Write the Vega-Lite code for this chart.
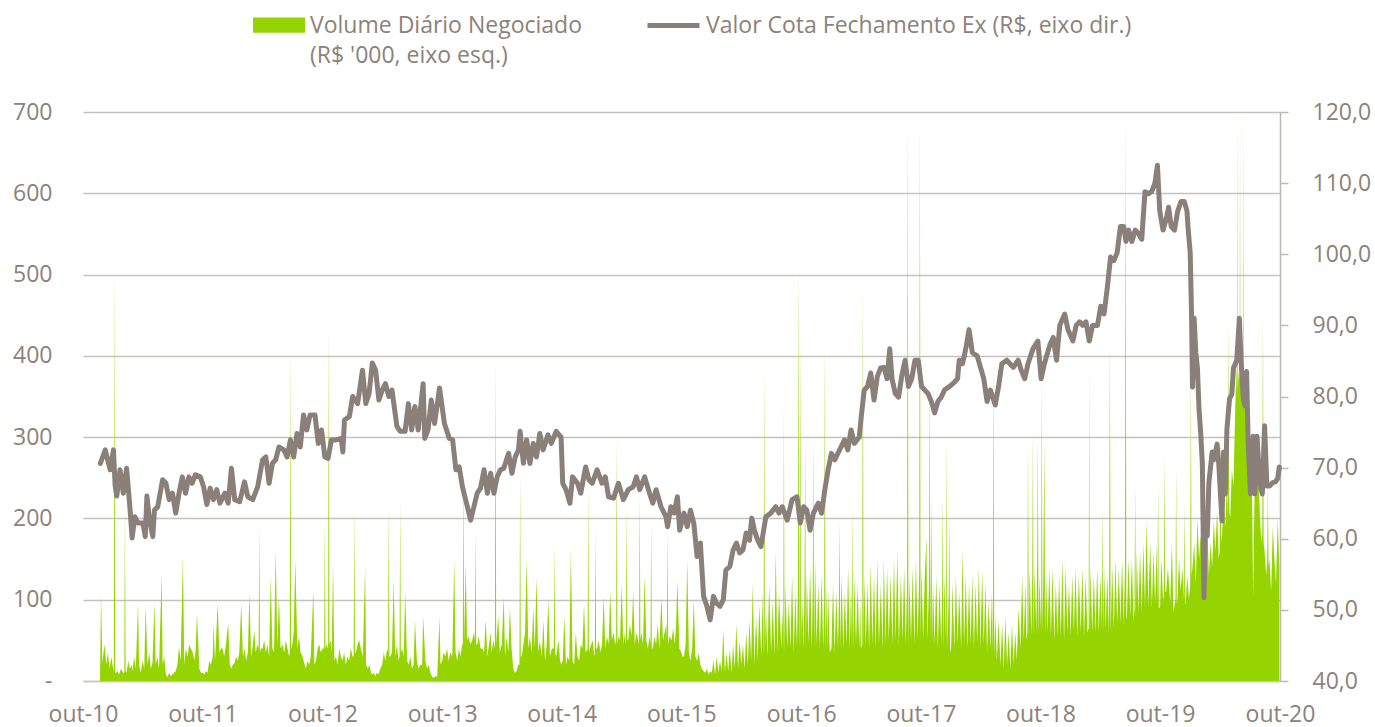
{
"$schema":"https://vega.github.io/schema/vega-lite/v6.json",
"width":1197,"height":569,
"autosize":{"type":"none"},
"padding":{"left":83,"top":112,"right":95,"bottom":46},
"config":{"font":"Open Sans","view":{"stroke":null},"style":{"guide-label":{"lineHeight":30}},
"axis":{"labelFont":"Open Sans","labelFontSize":23,"labelColor":"#8C8279","title":null}},
"datasets":{
"vol":[
{"d":"2010-11-22","v":5},{"d":"2010-11-25","v":108},{"d":"2010-11-29","v":20},
{"d":"2010-12-01","v":30},{"d":"2010-12-06","v":45},{"d":"2010-12-11","v":20},{"d":"2010-12-16","v":35},{"d":"2010-12-21","v":15},{"d":"2010-12-26","v":30},
{"d":"2011-01-01","v":15},{"d":"2011-01-03","v":12},{"d":"2011-01-05","v":512},{"d":"2011-01-07","v":10},{"d":"2011-01-10","v":10},{"d":"2011-01-14","v":12},{"d":"2011-01-19","v":8},{"d":"2011-01-25","v":15},
{"d":"2011-02-01","v":10},{"d":"2011-02-04","v":10},{"d":"2011-02-06","v":214},{"d":"2011-02-08","v":12},{"d":"2011-02-11","v":10},{"d":"2011-02-16","v":25},{"d":"2011-02-21","v":15},{"d":"2011-02-26","v":20},
{"d":"2011-03-01","v":12},{"d":"2011-03-06","v":30},{"d":"2011-03-11","v":15},{"d":"2011-03-18","v":95},{"d":"2011-03-21","v":20},{"d":"2011-03-26","v":10},
{"d":"2011-04-01","v":25},{"d":"2011-04-06","v":15},{"d":"2011-04-10","v":92},{"d":"2011-04-16","v":20},{"d":"2011-04-21","v":35},{"d":"2011-04-26","v":15},
{"d":"2011-05-01","v":22},{"d":"2011-05-07","v":96},{"d":"2011-05-11","v":20},{"d":"2011-05-16","v":30},{"d":"2011-05-21","v":15},{"d":"2011-05-29","v":132},
{"d":"2011-06-01","v":20},{"d":"2011-06-06","v":30},{"d":"2011-06-11","v":8},{"d":"2011-06-16","v":5},{"d":"2011-06-21","v":10},{"d":"2011-06-26","v":6},
{"d":"2011-07-01","v":8},{"d":"2011-07-06","v":10},{"d":"2011-07-11","v":12},{"d":"2011-07-16","v":20},{"d":"2011-07-21","v":42},{"d":"2011-07-26","v":25},
{"d":"2011-08-02","v":153},{"d":"2011-08-06","v":20},{"d":"2011-08-11","v":40},{"d":"2011-08-16","v":30},{"d":"2011-08-21","v":45},{"d":"2011-08-26","v":40},
{"d":"2011-09-01","v":35},{"d":"2011-09-06","v":25},{"d":"2011-09-10","v":40},{"d":"2011-09-14","v":83},{"d":"2011-09-21","v":15},{"d":"2011-09-26","v":10},
{"d":"2011-10-01","v":10},{"d":"2011-10-06","v":8},{"d":"2011-10-11","v":12},{"d":"2011-10-16","v":10},{"d":"2011-10-21","v":25},{"d":"2011-10-26","v":20},
{"d":"2011-11-01","v":30},{"d":"2011-11-03","v":71},{"d":"2011-11-08","v":25},{"d":"2011-11-16","v":96},{"d":"2011-11-21","v":35},{"d":"2011-11-26","v":40},
{"d":"2011-12-01","v":40},{"d":"2011-12-06","v":30},{"d":"2011-12-11","v":45},{"d":"2011-12-18","v":71},{"d":"2011-12-23","v":20},{"d":"2011-12-28","v":15},
{"d":"2012-01-01","v":20},{"d":"2012-01-07","v":22},{"d":"2012-01-11","v":30},{"d":"2012-01-16","v":25},{"d":"2012-01-21","v":35},{"d":"2012-01-27","v":96},
{"d":"2012-02-01","v":30},{"d":"2012-02-06","v":40},{"d":"2012-02-11","v":25},{"d":"2012-02-16","v":35},{"d":"2012-02-21","v":108},{"d":"2012-02-26","v":30},
{"d":"2012-03-01","v":40},{"d":"2012-03-07","v":62},{"d":"2012-03-11","v":35},{"d":"2012-03-16","v":45},{"d":"2012-03-20","v":40},{"d":"2012-03-22","v":194},{"d":"2012-03-24","v":35},{"d":"2012-03-27","v":40},
{"d":"2012-04-01","v":40},{"d":"2012-04-06","v":50},{"d":"2012-04-11","v":35},{"d":"2012-04-16","v":45},{"d":"2012-04-21","v":30},{"d":"2012-04-26","v":128},
{"d":"2012-05-01","v":40},{"d":"2012-05-06","v":35},{"d":"2012-05-11","v":161},{"d":"2012-05-16","v":45},{"d":"2012-05-21","v":104},{"d":"2012-05-26","v":40},
{"d":"2012-06-01","v":45},{"d":"2012-06-06","v":35},{"d":"2012-06-11","v":50},{"d":"2012-06-16","v":40},{"d":"2012-06-21","v":30},{"d":"2012-06-23","v":35},{"d":"2012-06-25","v":411},{"d":"2012-06-27","v":40},
{"d":"2012-07-01","v":45},{"d":"2012-07-05","v":60},{"d":"2012-07-10","v":149},{"d":"2012-07-16","v":40},{"d":"2012-07-21","v":55},{"d":"2012-07-26","v":35},
{"d":"2012-08-01","v":30},{"d":"2012-08-06","v":22},{"d":"2012-08-11","v":15},{"d":"2012-08-16","v":25},{"d":"2012-08-21","v":20},{"d":"2012-08-26","v":30},
{"d":"2012-09-03","v":112},{"d":"2012-09-06","v":20},{"d":"2012-09-11","v":25},{"d":"2012-09-16","v":40},{"d":"2012-09-21","v":45},{"d":"2012-09-26","v":35},
{"d":"2012-10-01","v":40},{"d":"2012-10-06","v":40},{"d":"2012-10-08","v":198},{"d":"2012-10-10","v":40},{"d":"2012-10-13","v":45},{"d":"2012-10-18","v":40},{"d":"2012-10-20","v":440},{"d":"2012-10-22","v":45},{"d":"2012-10-26","v":50},{"d":"2012-10-29","v":35},
{"d":"2012-11-02","v":145},{"d":"2012-11-06","v":25},{"d":"2012-11-11","v":30},{"d":"2012-11-16","v":20},{"d":"2012-11-21","v":40},{"d":"2012-11-26","v":30},
{"d":"2012-12-01","v":25},{"d":"2012-12-06","v":35},{"d":"2012-12-11","v":20},{"d":"2012-12-16","v":30},{"d":"2012-12-21","v":25},{"d":"2012-12-26","v":40},
{"d":"2013-01-01","v":30},{"d":"2013-01-04","v":30},{"d":"2013-01-06","v":215},{"d":"2013-01-08","v":35},{"d":"2013-01-11","v":35},{"d":"2013-01-16","v":45},{"d":"2013-01-21","v":50},{"d":"2013-01-26","v":40},
{"d":"2013-02-01","v":30},{"d":"2013-02-08","v":141},{"d":"2013-02-11","v":20},{"d":"2013-02-16","v":15},{"d":"2013-02-21","v":20},{"d":"2013-02-26","v":10},
{"d":"2013-03-01","v":8},{"d":"2013-03-06","v":10},{"d":"2013-03-11","v":6},{"d":"2013-03-16","v":10},{"d":"2013-03-21","v":8},{"d":"2013-03-26","v":15},
{"d":"2013-04-01","v":20},{"d":"2013-04-06","v":35},{"d":"2013-04-11","v":25},{"d":"2013-04-16","v":40},{"d":"2013-04-19","v":35},{"d":"2013-04-21","v":218},{"d":"2013-04-23","v":30},{"d":"2013-04-26","v":30},
{"d":"2013-05-01","v":35},{"d":"2013-05-06","v":124},{"d":"2013-05-11","v":30},{"d":"2013-05-16","v":45},{"d":"2013-05-21","v":25},{"d":"2013-05-24","v":30},{"d":"2013-05-26","v":223},{"d":"2013-05-28","v":35},
{"d":"2013-06-01","v":40},{"d":"2013-06-06","v":30},{"d":"2013-06-10","v":112},{"d":"2013-06-16","v":25},{"d":"2013-06-21","v":20},{"d":"2013-06-26","v":30},
{"d":"2013-07-01","v":15},{"d":"2013-07-06","v":20},{"d":"2013-07-10","v":75},{"d":"2013-07-16","v":25},{"d":"2013-07-21","v":15},{"d":"2013-07-26","v":20},
{"d":"2013-08-01","v":20},{"d":"2013-08-04","v":79},{"d":"2013-08-11","v":25},{"d":"2013-08-16","v":15},{"d":"2013-08-21","v":20},{"d":"2013-08-26","v":10},
{"d":"2013-09-01","v":5},{"d":"2013-09-06","v":4},{"d":"2013-09-11","v":6},{"d":"2013-09-16","v":5},{"d":"2013-09-23","v":79},{"d":"2013-09-26","v":20},
{"d":"2013-10-01","v":25},{"d":"2013-10-06","v":35},{"d":"2013-10-11","v":30},{"d":"2013-10-16","v":40},{"d":"2013-10-21","v":25},{"d":"2013-10-26","v":35},
{"d":"2013-11-01","v":30},{"d":"2013-11-07","v":149},{"d":"2013-11-11","v":35},{"d":"2013-11-16","v":25},{"d":"2013-11-21","v":40},{"d":"2013-11-26","v":30},
{"d":"2013-12-01","v":45},{"d":"2013-12-03","v":45},{"d":"2013-12-05","v":260},{"d":"2013-12-07","v":50},{"d":"2013-12-12","v":145},{"d":"2013-12-16","v":50},{"d":"2013-12-21","v":55},{"d":"2013-12-26","v":45},
{"d":"2014-01-01","v":50},{"d":"2014-01-06","v":60},{"d":"2014-01-09","v":50},{"d":"2014-01-11","v":186},{"d":"2014-01-13","v":45},{"d":"2014-01-16","v":45},{"d":"2014-01-21","v":55},{"d":"2014-01-26","v":40},
{"d":"2014-02-01","v":40},{"d":"2014-02-06","v":35},{"d":"2014-02-11","v":75},{"d":"2014-02-16","v":30},{"d":"2014-02-21","v":45},{"d":"2014-02-26","v":60},
{"d":"2014-03-01","v":35},{"d":"2014-03-06","v":50},{"d":"2014-03-11","v":40},{"d":"2014-03-13","v":395},{"d":"2014-03-15","v":45},{"d":"2014-03-21","v":80},{"d":"2014-03-26","v":35},
{"d":"2014-04-01","v":45},{"d":"2014-04-07","v":104},{"d":"2014-04-11","v":30},{"d":"2014-04-16","v":55},{"d":"2014-04-21","v":35},{"d":"2014-04-26","v":90},
{"d":"2014-05-01","v":40},{"d":"2014-05-06","v":15},{"d":"2014-05-11","v":10},{"d":"2014-05-16","v":12},{"d":"2014-05-21","v":20},{"d":"2014-05-25","v":20},{"d":"2014-05-27","v":255},{"d":"2014-05-29","v":30},
{"d":"2014-06-01","v":30},{"d":"2014-06-06","v":45},{"d":"2014-06-11","v":60},{"d":"2014-06-16","v":149},{"d":"2014-06-21","v":40},{"d":"2014-06-26","v":55},
{"d":"2014-07-01","v":35},{"d":"2014-07-06","v":90},{"d":"2014-07-11","v":40},{"d":"2014-07-16","v":128},{"d":"2014-07-21","v":35},{"d":"2014-07-26","v":50},
{"d":"2014-08-01","v":30},{"d":"2014-08-06","v":75},{"d":"2014-08-11","v":25},{"d":"2014-08-16","v":45},{"d":"2014-08-21","v":100},{"d":"2014-08-26","v":30},
{"d":"2014-09-01","v":40},{"d":"2014-09-07","v":40},{"d":"2014-09-09","v":170},{"d":"2014-09-11","v":35},{"d":"2014-09-14","v":30},{"d":"2014-09-21","v":50},{"d":"2014-09-26","v":25},{"d":"2014-09-30","v":20},
{"d":"2014-10-04","v":25},{"d":"2014-10-09","v":80},{"d":"2014-10-14","v":20},{"d":"2014-10-19","v":30},{"d":"2014-10-24","v":25},{"d":"2014-10-29","v":161},
{"d":"2014-11-03","v":25},{"d":"2014-11-08","v":20},{"d":"2014-11-13","v":60},{"d":"2014-11-18","v":30},{"d":"2014-11-23","v":25},{"d":"2014-11-28","v":45},
{"d":"2014-12-03","v":40},{"d":"2014-12-08","v":95},{"d":"2014-12-13","v":35},{"d":"2014-12-19","v":40},{"d":"2014-12-21","v":239},{"d":"2014-12-23","v":35},{"d":"2014-12-26","v":40},{"d":"2014-12-30","v":45},
{"d":"2015-01-04","v":50},{"d":"2015-01-08","v":30},{"d":"2015-01-10","v":35},{"d":"2015-01-12","v":186},{"d":"2015-01-14","v":40},{"d":"2015-01-17","v":40},{"d":"2015-01-22","v":50},{"d":"2015-01-27","v":35},
{"d":"2015-02-01","v":45},{"d":"2015-02-06","v":104},{"d":"2015-02-11","v":40},{"d":"2015-02-16","v":55},{"d":"2015-02-21","v":45},{"d":"2015-02-26","v":110},
{"d":"2015-03-03","v":50},{"d":"2015-03-08","v":60},{"d":"2015-03-13","v":45},{"d":"2015-03-16","v":50},{"d":"2015-03-18","v":297},{"d":"2015-03-20","v":45},{"d":"2015-03-23","v":55},{"d":"2015-03-28","v":50},
{"d":"2015-04-02","v":120},{"d":"2015-04-07","v":45},{"d":"2015-04-12","v":60},{"d":"2015-04-15","v":45},{"d":"2015-04-17","v":218},{"d":"2015-04-19","v":50},{"d":"2015-04-22","v":50},{"d":"2015-04-27","v":70},
{"d":"2015-05-02","v":55},{"d":"2015-05-07","v":110},{"d":"2015-05-12","v":45},{"d":"2015-05-17","v":60},{"d":"2015-05-22","v":50},{"d":"2015-05-25","v":45},{"d":"2015-05-27","v":235},{"d":"2015-05-29","v":50},
{"d":"2015-06-01","v":60},{"d":"2015-06-06","v":45},{"d":"2015-06-11","v":130},{"d":"2015-06-16","v":50},{"d":"2015-06-21","v":40},{"d":"2015-06-26","v":55},{"d":"2015-06-29","v":45},
{"d":"2015-07-01","v":198},{"d":"2015-07-03","v":40},{"d":"2015-07-06","v":40},{"d":"2015-07-11","v":55},{"d":"2015-07-16","v":45},{"d":"2015-07-21","v":70},{"d":"2015-07-26","v":40},
{"d":"2015-08-01","v":104},{"d":"2015-08-06","v":50},{"d":"2015-08-11","v":60},{"d":"2015-08-16","v":70},{"d":"2015-08-18","v":50},{"d":"2015-08-20","v":186},{"d":"2015-08-22","v":45},{"d":"2015-08-26","v":55},
{"d":"2015-09-01","v":50},{"d":"2015-09-06","v":65},{"d":"2015-09-11","v":45},{"d":"2015-09-15","v":70},{"d":"2015-09-19","v":124},{"d":"2015-09-25","v":40},
{"d":"2015-10-01","v":35},{"d":"2015-10-05","v":30},{"d":"2015-10-09","v":30},{"d":"2015-10-14","v":45},{"d":"2015-10-19","v":149},{"d":"2015-10-24","v":35},{"d":"2015-10-29","v":25},
{"d":"2015-11-03","v":40},{"d":"2015-11-08","v":100},{"d":"2015-11-13","v":30},{"d":"2015-11-18","v":25},{"d":"2015-11-23","v":35},{"d":"2015-11-28","v":20},
{"d":"2015-12-03","v":15},{"d":"2015-12-08","v":12},{"d":"2015-12-13","v":10},{"d":"2015-12-18","v":15},{"d":"2015-12-23","v":8},{"d":"2015-12-28","v":12},
{"d":"2016-01-02","v":10},{"d":"2016-01-07","v":25},{"d":"2016-01-12","v":8},{"d":"2016-01-17","v":30},{"d":"2016-01-22","v":10},{"d":"2016-01-27","v":25},
{"d":"2016-02-01","v":12},{"d":"2016-02-06","v":63},{"d":"2016-02-11","v":10},{"d":"2016-02-16","v":35},{"d":"2016-02-21","v":12},{"d":"2016-02-26","v":40},
{"d":"2016-03-02","v":10},{"d":"2016-03-07","v":45},{"d":"2016-03-12","v":15},{"d":"2016-03-17","v":70},{"d":"2016-03-22","v":15},{"d":"2016-03-27","v":50},
{"d":"2016-04-01","v":20},{"d":"2016-04-06","v":45},{"d":"2016-04-11","v":15},{"d":"2016-04-16","v":60},{"d":"2016-04-21","v":20},{"d":"2016-04-26","v":75},
{"d":"2016-05-01","v":25},{"d":"2016-05-06","v":120},{"d":"2016-05-11","v":20},{"d":"2016-05-16","v":80},{"d":"2016-05-21","v":25},{"d":"2016-05-26","v":95},
{"d":"2016-06-01","v":30},{"d":"2016-06-05","v":110},{"d":"2016-06-08","v":30},{"d":"2016-06-10","v":385},{"d":"2016-06-12","v":35},{"d":"2016-06-15","v":90},{"d":"2016-06-20","v":30},{"d":"2016-06-25","v":120},
{"d":"2016-07-01","v":35},{"d":"2016-07-06","v":100},{"d":"2016-07-11","v":30},{"d":"2016-07-15","v":160},{"d":"2016-07-20","v":35},{"d":"2016-07-25","v":110},
{"d":"2016-08-01","v":40},{"d":"2016-08-05","v":90},{"d":"2016-08-07","v":35},{"d":"2016-08-09","v":337},{"d":"2016-08-11","v":35},{"d":"2016-08-14","v":120},{"d":"2016-08-19","v":40},{"d":"2016-08-24","v":100},{"d":"2016-08-29","v":40},
{"d":"2016-09-03","v":130},{"d":"2016-09-08","v":35},{"d":"2016-09-13","v":110},{"d":"2016-09-18","v":40},{"d":"2016-09-21","v":120},{"d":"2016-09-23","v":518},{"d":"2016-09-25","v":40},{"d":"2016-09-26","v":60},{"d":"2016-09-28","v":420},{"d":"2016-09-30","v":40},
{"d":"2016-10-03","v":110},{"d":"2016-10-08","v":40},{"d":"2016-10-11","v":120},{"d":"2016-10-13","v":300},{"d":"2016-10-15","v":40},{"d":"2016-10-18","v":130},{"d":"2016-10-23","v":45},{"d":"2016-10-28","v":140},
{"d":"2016-11-02","v":40},{"d":"2016-11-05","v":110},{"d":"2016-11-07","v":300},{"d":"2016-11-09","v":40},{"d":"2016-11-12","v":150},{"d":"2016-11-17","v":45},{"d":"2016-11-22","v":120},{"d":"2016-11-27","v":40},
{"d":"2016-12-02","v":130},{"d":"2016-12-07","v":40},{"d":"2016-12-10","v":100},{"d":"2016-12-12","v":415},{"d":"2016-12-14","v":35},{"d":"2016-12-17","v":120},{"d":"2016-12-19","v":40},{"d":"2016-12-22","v":110},{"d":"2016-12-27","v":35},
{"d":"2017-01-01","v":40},{"d":"2017-01-06","v":120},{"d":"2017-01-11","v":35},{"d":"2017-01-16","v":110},{"d":"2017-01-21","v":40},{"d":"2017-01-24","v":100},{"d":"2017-01-26","v":198},{"d":"2017-01-28","v":40},
{"d":"2017-02-01","v":130},{"d":"2017-02-06","v":40},{"d":"2017-02-11","v":110},{"d":"2017-02-16","v":45},{"d":"2017-02-21","v":140},{"d":"2017-02-26","v":40},
{"d":"2017-03-02","v":120},{"d":"2017-03-05","v":40},{"d":"2017-03-07","v":218},{"d":"2017-03-09","v":40},{"d":"2017-03-12","v":130},{"d":"2017-03-17","v":45},{"d":"2017-03-22","v":120},{"d":"2017-03-27","v":40},{"d":"2017-03-30","v":100},
{"d":"2017-04-01","v":40},{"d":"2017-04-05","v":45},{"d":"2017-04-07","v":493},{"d":"2017-04-09","v":40},{"d":"2017-04-11","v":130},{"d":"2017-04-16","v":45},{"d":"2017-04-21","v":120},{"d":"2017-04-26","v":40},
{"d":"2017-05-01","v":145},{"d":"2017-05-06","v":45},{"d":"2017-05-11","v":130},{"d":"2017-05-16","v":40},{"d":"2017-05-21","v":150},{"d":"2017-05-26","v":45},
{"d":"2017-06-01","v":120},{"d":"2017-06-06","v":40},{"d":"2017-06-10","v":150},{"d":"2017-06-15","v":45},{"d":"2017-06-20","v":140},{"d":"2017-06-25","v":50},
{"d":"2017-07-01","v":130},{"d":"2017-07-06","v":45},{"d":"2017-07-11","v":150},{"d":"2017-07-16","v":50},{"d":"2017-07-21","v":160},{"d":"2017-07-26","v":45},
{"d":"2017-08-01","v":130},{"d":"2017-08-06","v":50},{"d":"2017-08-11","v":140},{"d":"2017-08-16","v":45},{"d":"2017-08-20","v":120},{"d":"2017-08-22","v":700},{"d":"2017-08-24","v":45},{"d":"2017-08-27","v":130},
{"d":"2017-09-01","v":50},{"d":"2017-09-06","v":140},{"d":"2017-09-11","v":45},{"d":"2017-09-16","v":150},{"d":"2017-09-21","v":50},{"d":"2017-09-26","v":130},{"d":"2017-09-28","v":700},{"d":"2017-09-30","v":50},
{"d":"2017-10-03","v":140},{"d":"2017-10-08","v":50},{"d":"2017-10-13","v":130},{"d":"2017-10-18","v":177},{"d":"2017-10-21","v":50},{"d":"2017-10-26","v":120},{"d":"2017-10-28","v":380},{"d":"2017-10-30","v":45},
{"d":"2017-11-02","v":228},{"d":"2017-11-04","v":45},{"d":"2017-11-07","v":120},{"d":"2017-11-12","v":45},{"d":"2017-11-17","v":130},{"d":"2017-11-22","v":40},{"d":"2017-11-27","v":120},
{"d":"2017-12-02","v":45},{"d":"2017-12-05","v":110},{"d":"2017-12-07","v":228},{"d":"2017-12-09","v":40},{"d":"2017-12-12","v":130},{"d":"2017-12-17","v":45},{"d":"2017-12-19","v":300},{"d":"2017-12-21","v":40},{"d":"2017-12-25","v":110},{"d":"2017-12-27","v":205},{"d":"2017-12-29","v":40},
{"d":"2018-01-01","v":35},{"d":"2018-01-06","v":120},{"d":"2018-01-11","v":40},{"d":"2018-01-16","v":130},{"d":"2018-01-21","v":45},{"d":"2018-01-26","v":110},
{"d":"2018-02-01","v":40},{"d":"2018-02-05","v":163},{"d":"2018-02-10","v":45},{"d":"2018-02-15","v":130},{"d":"2018-02-20","v":40},{"d":"2018-02-25","v":120},
{"d":"2018-03-02","v":45},{"d":"2018-03-07","v":130},{"d":"2018-03-12","v":40},{"d":"2018-03-17","v":120},{"d":"2018-03-22","v":45},{"d":"2018-03-27","v":140},
{"d":"2018-04-01","v":40},{"d":"2018-04-06","v":135},{"d":"2018-04-11","v":45},{"d":"2018-04-16","v":120},{"d":"2018-04-21","v":35},{"d":"2018-04-26","v":100},
{"d":"2018-05-01","v":40},{"d":"2018-05-06","v":110},{"d":"2018-05-09","v":35},{"d":"2018-05-11","v":413},{"d":"2018-05-13","v":30},{"d":"2018-05-16","v":80},{"d":"2018-05-21","v":25},{"d":"2018-05-26","v":75},
{"d":"2018-06-01","v":20},{"d":"2018-06-06","v":70},{"d":"2018-06-11","v":15},{"d":"2018-06-16","v":80},{"d":"2018-06-21","v":20},{"d":"2018-06-26","v":60},
{"d":"2018-07-01","v":15},{"d":"2018-07-06","v":70},{"d":"2018-07-11","v":20},{"d":"2018-07-16","v":60},{"d":"2018-07-21","v":25},{"d":"2018-07-26","v":90},
{"d":"2018-08-01","v":40},{"d":"2018-08-06","v":130},{"d":"2018-08-11","v":50},{"d":"2018-08-16","v":120},{"d":"2018-08-19","v":50},{"d":"2018-08-22","v":60},{"d":"2018-08-24","v":300},{"d":"2018-08-26","v":55},{"d":"2018-08-29","v":140},
{"d":"2018-09-03","v":55},{"d":"2018-09-06","v":130},{"d":"2018-09-08","v":307},{"d":"2018-09-10","v":55},{"d":"2018-09-13","v":140},{"d":"2018-09-18","v":60},{"d":"2018-09-21","v":150},{"d":"2018-09-23","v":300},{"d":"2018-09-25","v":55},{"d":"2018-09-28","v":130},
{"d":"2018-10-03","v":60},{"d":"2018-10-05","v":380},{"d":"2018-10-07","v":60},{"d":"2018-10-10","v":140},{"d":"2018-10-13","v":298},{"d":"2018-10-15","v":55},{"d":"2018-10-18","v":130},{"d":"2018-10-23","v":60},{"d":"2018-10-28","v":140},
{"d":"2018-11-02","v":55},{"d":"2018-11-07","v":140},{"d":"2018-11-12","v":50},{"d":"2018-11-17","v":120},{"d":"2018-11-22","v":55},{"d":"2018-11-27","v":130},
{"d":"2018-12-02","v":55},{"d":"2018-12-07","v":150},{"d":"2018-12-12","v":50},{"d":"2018-12-17","v":140},{"d":"2018-12-22","v":60},{"d":"2018-12-27","v":120},
{"d":"2019-01-01","v":55},{"d":"2019-01-06","v":130},{"d":"2019-01-11","v":60},{"d":"2019-01-16","v":140},{"d":"2019-01-21","v":55},{"d":"2019-01-26","v":130},
{"d":"2019-02-01","v":60},{"d":"2019-02-06","v":140},{"d":"2019-02-11","v":55},{"d":"2019-02-16","v":130},{"d":"2019-02-21","v":60},{"d":"2019-02-25","v":65},{"d":"2019-02-27","v":394},{"d":"2019-02-28","v":60},
{"d":"2019-03-03","v":140},{"d":"2019-03-08","v":60},{"d":"2019-03-13","v":130},{"d":"2019-03-18","v":60},{"d":"2019-03-23","v":140},{"d":"2019-03-28","v":60},
{"d":"2019-04-02","v":130},{"d":"2019-04-06","v":65},{"d":"2019-04-08","v":220},{"d":"2019-04-10","v":60},{"d":"2019-04-13","v":140},{"d":"2019-04-18","v":65},{"d":"2019-04-23","v":130},{"d":"2019-04-28","v":60},
{"d":"2019-05-01","v":420},{"d":"2019-05-03","v":60},{"d":"2019-05-08","v":140},{"d":"2019-05-13","v":65},{"d":"2019-05-18","v":150},{"d":"2019-05-23","v":70},{"d":"2019-05-28","v":140},
{"d":"2019-06-02","v":70},{"d":"2019-06-07","v":150},{"d":"2019-06-12","v":70},{"d":"2019-06-16","v":140},{"d":"2019-06-18","v":700},{"d":"2019-06-20","v":75},{"d":"2019-06-22","v":80},{"d":"2019-06-27","v":150},
{"d":"2019-07-02","v":80},{"d":"2019-07-07","v":150},{"d":"2019-07-12","v":75},{"d":"2019-07-15","v":90},{"d":"2019-07-17","v":244},{"d":"2019-07-19","v":80},{"d":"2019-07-22","v":160},{"d":"2019-07-27","v":85},
{"d":"2019-08-01","v":160},{"d":"2019-08-06","v":85},{"d":"2019-08-11","v":170},{"d":"2019-08-16","v":90},{"d":"2019-08-21","v":197},{"d":"2019-08-26","v":90},
{"d":"2019-09-01","v":170},{"d":"2019-09-06","v":90},{"d":"2019-09-11","v":160},{"d":"2019-09-16","v":95},{"d":"2019-09-21","v":170},{"d":"2019-09-23","v":95},{"d":"2019-09-25","v":244},{"d":"2019-09-27","v":90},
{"d":"2019-10-01","v":90},{"d":"2019-10-05","v":150},{"d":"2019-10-10","v":100},{"d":"2019-10-13","v":105},{"d":"2019-10-15","v":277},{"d":"2019-10-17","v":110},{"d":"2019-10-20","v":110},{"d":"2019-10-25","v":140},
{"d":"2019-11-01","v":95},{"d":"2019-11-06","v":170},{"d":"2019-11-11","v":85},{"d":"2019-11-17","v":100},{"d":"2019-11-19","v":263},{"d":"2019-11-21","v":95},{"d":"2019-11-23","v":100},{"d":"2019-11-28","v":150},
{"d":"2019-12-03","v":110},{"d":"2019-12-08","v":140},{"d":"2019-12-12","v":100},{"d":"2019-12-14","v":220},{"d":"2019-12-16","v":95},{"d":"2019-12-18","v":95},{"d":"2019-12-23","v":130},{"d":"2019-12-28","v":100},
{"d":"2020-01-01","v":120},{"d":"2020-01-03","v":385},{"d":"2020-01-05","v":130},{"d":"2020-01-08","v":140},{"d":"2020-01-13","v":170},{"d":"2020-01-18","v":120},{"d":"2020-01-23","v":200},{"d":"2020-01-28","v":150},
{"d":"2020-02-02","v":180},{"d":"2020-02-07","v":130},{"d":"2020-02-10","v":140},{"d":"2020-02-12","v":267},{"d":"2020-02-14","v":140},{"d":"2020-02-17","v":150},{"d":"2020-02-22","v":190},{"d":"2020-02-27","v":130},
{"d":"2020-03-03","v":170},{"d":"2020-03-08","v":140},{"d":"2020-03-13","v":197},{"d":"2020-03-18","v":160},{"d":"2020-03-23","v":210},{"d":"2020-03-28","v":150},{"d":"2020-03-31","v":160},
{"d":"2020-04-02","v":305},{"d":"2020-04-04","v":170},{"d":"2020-04-07","v":180},{"d":"2020-04-12","v":220},{"d":"2020-04-17","v":190},{"d":"2020-04-22","v":250},{"d":"2020-04-25","v":200},{"d":"2020-04-27","v":442},{"d":"2020-04-29","v":210},
{"d":"2020-05-02","v":200},{"d":"2020-05-07","v":260},{"d":"2020-05-12","v":240},{"d":"2020-05-17","v":330},{"d":"2020-05-21","v":390},{"d":"2020-05-23","v":350},{"d":"2020-05-24","v":700},{"d":"2020-05-25","v":360},{"d":"2020-05-28","v":380},{"d":"2020-05-31","v":370},
{"d":"2020-06-01","v":700},{"d":"2020-06-02","v":380},{"d":"2020-06-05","v":400},{"d":"2020-06-10","v":360},{"d":"2020-06-11","v":700},{"d":"2020-06-12","v":350},{"d":"2020-06-15","v":370},{"d":"2020-06-21","v":330},{"d":"2020-06-26","v":290},
{"d":"2020-07-01","v":260},{"d":"2020-07-06","v":300},{"d":"2020-07-11","v":103},{"d":"2020-07-16","v":250},{"d":"2020-07-21","v":230},{"d":"2020-07-26","v":270},
{"d":"2020-08-01","v":200},{"d":"2020-08-05","v":170},{"d":"2020-08-08","v":180},{"d":"2020-08-10","v":451},{"d":"2020-08-12","v":170},{"d":"2020-08-15","v":160},{"d":"2020-08-20","v":130},{"d":"2020-08-23","v":150},{"d":"2020-08-25","v":244},{"d":"2020-08-27","v":140},{"d":"2020-08-30","v":150},
{"d":"2020-09-04","v":110},{"d":"2020-09-09","v":190},{"d":"2020-09-14","v":150},{"d":"2020-09-19","v":120},{"d":"2020-09-24","v":200},{"d":"2020-09-29","v":140}
],
"px":[
{"d":"2010-11-23","p":70.6},{"d":"2010-12-08","p":72.5},{"d":"2010-12-18","p":70.6},{"d":"2010-12-23","p":69.7},{"d":"2011-01-02","p":72.5},{"d":"2011-01-07","p":67.5},{"d":"2011-01-12","p":66.0},{"d":"2011-01-22","p":69.7},{"d":"2011-02-01","p":66.4},{"d":"2011-02-11","p":69.9},{"d":"2011-02-21","p":64.5},{"d":"2011-02-28","p":60.1},{"d":"2011-03-08","p":63.1},{"d":"2011-03-18","p":62.2},{"d":"2011-04-02","p":62.2},{"d":"2011-04-09","p":60.3},{"d":"2011-04-14","p":66.0},{"d":"2011-04-22","p":62.6},{"d":"2011-05-02","p":60.3},{"d":"2011-05-07","p":64.0},{"d":"2011-05-17","p":64.5},{"d":"2011-06-01","p":68.3},{"d":"2011-06-11","p":67.8},{"d":"2011-06-21","p":65.5},{"d":"2011-07-01","p":66.4},{"d":"2011-07-11","p":63.6},{"d":"2011-07-21","p":66.4},{"d":"2011-07-31","p":68.7},{"d":"2011-08-10","p":66.4},{"d":"2011-08-20","p":68.7},{"d":"2011-08-30","p":67.8},{"d":"2011-09-09","p":69.0},{"d":"2011-09-24","p":68.7},{"d":"2011-10-04","p":67.3},{"d":"2011-10-14","p":64.8},{"d":"2011-10-24","p":67.1},{"d":"2011-11-03","p":65.5},{"d":"2011-11-13","p":66.9},{"d":"2011-11-23","p":65.0},{"d":"2011-12-08","p":66.4},{"d":"2011-12-18","p":65.0},{"d":"2011-12-28","p":69.9},
{"d":"2012-01-07","p":65.5},{"d":"2012-01-22","p":65.2},{"d":"2012-02-06","p":68.0},{"d":"2012-02-16","p":65.9},{"d":"2012-03-02","p":65.5},{"d":"2012-03-17","p":67.3},{"d":"2012-04-01","p":71.1},{"d":"2012-04-11","p":71.5},{"d":"2012-04-21","p":67.8},{"d":"2012-05-01","p":70.6},{"d":"2012-05-11","p":71.1},{"d":"2012-05-21","p":72.9},{"d":"2012-06-05","p":72.5},{"d":"2012-06-15","p":71.5},{"d":"2012-06-25","p":73.9},{"d":"2012-07-05","p":71.5},{"d":"2012-07-15","p":74.8},{"d":"2012-07-25","p":72.9},{"d":"2012-08-04","p":77.4},{"d":"2012-08-14","p":75.3},{"d":"2012-08-24","p":77.4},{"d":"2012-09-08","p":77.4},{"d":"2012-09-18","p":73.4},{"d":"2012-09-28","p":75.3},{"d":"2012-10-08","p":71.5},{"d":"2012-10-18","p":71.3},{"d":"2012-10-28","p":73.9},{"d":"2012-11-12","p":73.9},{"d":"2012-11-27","p":74.1},{"d":"2012-12-02","p":72.2},{"d":"2012-12-07","p":76.7},{"d":"2012-12-22","p":77.2},
{"d":"2013-01-01","p":80.0},{"d":"2013-01-16","p":79.0},{"d":"2013-01-31","p":83.7},{"d":"2013-02-10","p":79.0},{"d":"2013-02-20","p":80.4},{"d":"2013-03-02","p":84.7},{"d":"2013-03-12","p":83.7},{"d":"2013-03-22","p":79.5},{"d":"2013-04-01","p":80.9},{"d":"2013-04-11","p":81.8},{"d":"2013-04-21","p":80.0},{"d":"2013-05-01","p":80.9},{"d":"2013-05-16","p":75.8},{"d":"2013-05-26","p":75.1},{"d":"2013-06-10","p":75.1},{"d":"2013-06-20","p":79.0},{"d":"2013-06-30","p":75.3},{"d":"2013-07-10","p":78.6},{"d":"2013-07-20","p":75.3},{"d":"2013-08-04","p":81.8},{"d":"2013-08-09","p":74.1},{"d":"2013-08-19","p":75.3},{"d":"2013-08-29","p":79.5},{"d":"2013-09-08","p":76.2},{"d":"2013-09-23","p":81.2},{"d":"2013-10-08","p":76.2},{"d":"2013-10-23","p":74.1},{"d":"2013-11-02","p":73.9},{"d":"2013-11-12","p":69.7},{"d":"2013-11-22","p":70.1},{"d":"2013-12-02","p":67.3},{"d":"2013-12-17","p":64.5},{"d":"2013-12-27","p":62.6},
{"d":"2014-01-06","p":64.5},{"d":"2014-01-16","p":66.4},{"d":"2014-01-26","p":67.1},{"d":"2014-02-06","p":69.7},{"d":"2014-02-16","p":66.4},{"d":"2014-02-26","p":69.2},{"d":"2014-03-08","p":66.4},{"d":"2014-03-18","p":68.7},{"d":"2014-03-28","p":69.7},{"d":"2014-04-07","p":69.9},{"d":"2014-04-22","p":72.0},{"d":"2014-05-02","p":69.2},{"d":"2014-05-12","p":71.5},{"d":"2014-05-22","p":72.5},{"d":"2014-05-27","p":75.1},{"d":"2014-06-06","p":70.6},{"d":"2014-06-16","p":73.9},{"d":"2014-06-26","p":70.6},{"d":"2014-07-06","p":73.4},{"d":"2014-07-16","p":71.5},{"d":"2014-07-26","p":74.8},{"d":"2014-08-05","p":72.5},{"d":"2014-08-20","p":74.6},{"d":"2014-08-30","p":73.4},{"d":"2014-09-14","p":75.1},{"d":"2014-09-29","p":74.3},{"d":"2014-10-04","p":67.8},{"d":"2014-10-14","p":66.9},{"d":"2014-10-26","p":65.0},{"d":"2014-11-03","p":68.7},{"d":"2014-11-18","p":67.8},{"d":"2014-11-28","p":66.4},{"d":"2014-12-13","p":70.1},{"d":"2014-12-23","p":68.3},
{"d":"2015-01-02","p":67.8},{"d":"2015-01-17","p":69.7},{"d":"2015-02-01","p":67.8},{"d":"2015-02-11","p":68.7},{"d":"2015-02-21","p":65.9},{"d":"2015-03-08","p":65.7},{"d":"2015-03-23","p":67.8},{"d":"2015-04-07","p":65.5},{"d":"2015-04-22","p":66.9},{"d":"2015-05-07","p":67.3},{"d":"2015-05-17","p":68.7},{"d":"2015-05-27","p":66.9},{"d":"2015-06-11","p":68.7},{"d":"2015-06-26","p":66.4},{"d":"2015-07-06","p":65.0},{"d":"2015-07-16","p":66.9},{"d":"2015-07-31","p":64.5},{"d":"2015-08-15","p":63.1},{"d":"2015-08-20","p":61.7},{"d":"2015-08-30","p":64.5},{"d":"2015-09-09","p":63.6},{"d":"2015-09-19","p":65.9},{"d":"2015-09-26","p":61.2},{"d":"2015-10-09","p":63.6},{"d":"2015-10-19","p":61.7},{"d":"2015-10-29","p":64.0},{"d":"2015-11-08","p":62.2},{"d":"2015-11-18","p":57.5},{"d":"2015-11-28","p":59.4},{"d":"2015-12-08","p":51.9},{"d":"2015-12-18","p":50.5},{"d":"2015-12-28","p":48.6},
{"d":"2016-01-07","p":51.9},{"d":"2016-01-17","p":50.9},{"d":"2016-01-27","p":50.5},{"d":"2016-02-06","p":51.4},{"d":"2016-02-14","p":55.6},{"d":"2016-02-26","p":56.1},{"d":"2016-03-07","p":58.4},{"d":"2016-03-17","p":59.4},{"d":"2016-03-27","p":58.0},{"d":"2016-04-06","p":58.4},{"d":"2016-04-16","p":60.8},{"d":"2016-04-26","p":59.8},{"d":"2016-05-03","p":62.9},{"d":"2016-05-11","p":61.2},{"d":"2016-05-21","p":59.8},{"d":"2016-05-31","p":58.9},{"d":"2016-06-15","p":63.1},{"d":"2016-06-30","p":63.6},{"d":"2016-07-15","p":64.5},{"d":"2016-07-25","p":63.6},{"d":"2016-08-04","p":64.5},{"d":"2016-08-19","p":62.6},{"d":"2016-09-03","p":65.5},{"d":"2016-09-18","p":65.9},{"d":"2016-09-28","p":62.2},{"d":"2016-10-08","p":64.5},{"d":"2016-10-18","p":64.0},{"d":"2016-10-28","p":61.2},{"d":"2016-11-07","p":63.6},{"d":"2016-11-22","p":65.0},{"d":"2016-12-02","p":63.6},{"d":"2016-12-12","p":66.9},{"d":"2016-12-22","p":69.7},
{"d":"2017-01-01","p":72.0},{"d":"2017-01-11","p":71.1},{"d":"2017-01-26","p":72.5},{"d":"2017-02-10","p":73.9},{"d":"2017-02-20","p":72.5},{"d":"2017-03-02","p":75.3},{"d":"2017-03-12","p":73.4},{"d":"2017-03-27","p":74.3},{"d":"2017-04-01","p":76.7},{"d":"2017-04-11","p":80.9},{"d":"2017-04-21","p":81.4},{"d":"2017-05-01","p":83.3},{"d":"2017-05-11","p":79.5},{"d":"2017-05-21","p":82.8},{"d":"2017-05-31","p":84.0},{"d":"2017-06-10","p":84.1},{"d":"2017-06-20","p":82.5},{"d":"2017-06-28","p":86.7},{"d":"2017-07-05","p":82.5},{"d":"2017-07-15","p":80.4},{"d":"2017-07-25","p":79.9},{"d":"2017-08-04","p":83.0},{"d":"2017-08-14","p":85.1},{"d":"2017-08-24","p":81.4},{"d":"2017-09-03","p":82.5},{"d":"2017-09-13","p":85.1},{"d":"2017-09-23","p":85.1},{"d":"2017-10-03","p":81.4},{"d":"2017-10-13","p":80.9},{"d":"2017-10-23","p":80.4},{"d":"2017-11-02","p":79.3},{"d":"2017-11-12","p":77.7},{"d":"2017-11-22","p":79.3},{"d":"2017-12-02","p":79.9},{"d":"2017-12-12","p":80.9},{"d":"2017-12-27","p":81.4},
{"d":"2018-01-11","p":82.0},{"d":"2018-01-21","p":82.5},{"d":"2018-01-26","p":85.1},{"d":"2018-02-05","p":84.6},{"d":"2018-02-15","p":86.7},{"d":"2018-02-25","p":89.4},{"d":"2018-03-07","p":86.2},{"d":"2018-03-22","p":85.7},{"d":"2018-04-01","p":84.1},{"d":"2018-04-11","p":82.5},{"d":"2018-04-21","p":79.3},{"d":"2018-05-01","p":80.9},{"d":"2018-05-16","p":78.8},{"d":"2018-05-26","p":81.4},{"d":"2018-06-05","p":84.6},{"d":"2018-06-20","p":85.1},{"d":"2018-06-30","p":84.6},{"d":"2018-07-10","p":84.1},{"d":"2018-07-25","p":85.1},{"d":"2018-08-04","p":83.6},{"d":"2018-08-14","p":82.5},{"d":"2018-08-24","p":84.6},{"d":"2018-09-08","p":86.7},{"d":"2018-09-23","p":87.8},{"d":"2018-10-03","p":82.5},{"d":"2018-10-13","p":84.6},{"d":"2018-10-30","p":87.3},{"d":"2018-11-09","p":88.3},{"d":"2018-11-19","p":85.1},{"d":"2018-11-29","p":90.0},{"d":"2018-12-14","p":91.6},{"d":"2018-12-24","p":89.4},
{"d":"2019-01-08","p":87.8},{"d":"2019-01-18","p":90.0},{"d":"2019-01-28","p":90.5},{"d":"2019-02-07","p":90.0},{"d":"2019-02-17","p":90.5},{"d":"2019-02-27","p":87.8},{"d":"2019-03-09","p":90.0},{"d":"2019-03-24","p":90.0},{"d":"2019-04-03","p":92.7},{"d":"2019-04-13","p":91.6},{"d":"2019-04-23","p":95.3},{"d":"2019-05-03","p":99.6},{"d":"2019-05-13","p":99.1},{"d":"2019-05-23","p":100.2},{"d":"2019-06-02","p":103.9},{"d":"2019-06-12","p":103.9},{"d":"2019-06-19","p":101.8},{"d":"2019-06-27","p":103.4},{"d":"2019-07-07","p":101.8},{"d":"2019-07-17","p":103.4},{"d":"2019-07-27","p":102.9},{"d":"2019-08-06","p":102.1},{"d":"2019-08-16","p":108.8},{"d":"2019-08-26","p":108.5},{"d":"2019-09-05","p":108.8},{"d":"2019-09-15","p":109.9},{"d":"2019-09-23","p":112.5},{"d":"2019-09-30","p":106.1},{"d":"2019-10-10","p":103.4},{"d":"2019-10-20","p":105.0},{"d":"2019-10-27","p":106.6},{"d":"2019-11-04","p":103.9},{"d":"2019-11-14","p":103.4},{"d":"2019-11-24","p":106.1},{"d":"2019-12-04","p":107.4},{"d":"2019-12-14","p":107.4},{"d":"2019-12-22","p":106.1},{"d":"2019-12-26","p":103.4},
{"d":"2020-01-01","p":100.2},{"d":"2020-01-05","p":91.6},{"d":"2020-01-08","p":81.3},{"d":"2020-01-13","p":91.0},{"d":"2020-01-18","p":86.2},{"d":"2020-01-23","p":84.0},{"d":"2020-01-28","p":78.1},{"d":"2020-02-02","p":74.9},{"d":"2020-02-07","p":70.6},{"d":"2020-02-12","p":51.7},{"d":"2020-02-17","p":63.6},{"d":"2020-02-22","p":60.4},{"d":"2020-02-27","p":67.9},{"d":"2020-03-08","p":72.2},{"d":"2020-03-13","p":71.1},{"d":"2020-03-23","p":73.3},{"d":"2020-03-28","p":70.6},{"d":"2020-04-07","p":62.5},{"d":"2020-04-12","p":72.2},{"d":"2020-04-17","p":66.3},{"d":"2020-04-22","p":75.4},{"d":"2020-04-30","p":79.7},{"d":"2020-05-07","p":80.3},{"d":"2020-05-12","p":84.0},{"d":"2020-05-22","p":85.1},{"d":"2020-05-30","p":91.0},{"d":"2020-06-04","p":85.1},{"d":"2020-06-11","p":79.7},{"d":"2020-06-16","p":78.7},{"d":"2020-06-21","p":83.5},{"d":"2020-06-26","p":73.3},{"d":"2020-07-03","p":66.3},{"d":"2020-07-11","p":74.4},{"d":"2020-07-16","p":66.3},{"d":"2020-07-23","p":74.4},{"d":"2020-07-31","p":67.9},{"d":"2020-08-08","p":66.3},{"d":"2020-08-15","p":75.9},{"d":"2020-08-22","p":67.4},{"d":"2020-08-30","p":67.4},{"d":"2020-09-09","p":67.9},{"d":"2020-09-17","p":68.0},{"d":"2020-09-24","p":68.5},{"d":"2020-09-29","p":70.1}
]},
"layer":[
{"data":{"name":"vol"},
 "mark":{"type":"area","interpolate":"linear","clip":true},
 "encoding":{
  "x":{"field":"d","type":"temporal",
   "scale":{"domain":[{"year":2010,"month":10,"date":1},{"year":2020,"month":10,"date":1}]},
   "axis":{"values":[{"year":2010,"month":10,"date":1},{"year":2011,"month":10,"date":1},{"year":2012,"month":10,"date":1},{"year":2013,"month":10,"date":1},{"year":2014,"month":10,"date":1},{"year":2015,"month":10,"date":1},{"year":2016,"month":10,"date":1},{"year":2017,"month":10,"date":1},{"year":2018,"month":10,"date":1},{"year":2019,"month":10,"date":1},{"year":2020,"month":10,"date":1}],
    "labelExpr":"'out-' + timeFormat(datum.value, '%y')","ticks":false,"grid":false,"domain":true,"domainColor":"#C9C5C1","domainWidth":1.5,"labelPadding":22,"labelFlush":false,"labelOverlap":false}},
  "y":{"field":"v","type":"quantitative","scale":{"domain":[0,700],"nice":false},
   "axis":{"orient":"left","values":[0,100,200,300,400,500,600,700],"labelExpr":"datum.value == 0 ? '-' : datum.label","grid":true,"gridColor":"#C6C1BC","gridWidth":1.4,"domain":false,"ticks":false,"labelPadding":31}},
  "fill":{"datum":"Volume Diário Negociado|(R$ '000, eixo esq.)","scale":{"range":["#95D400"]},
   "legend":{"title":null,"orient":"none","legendX":170,"legendY":-123,"padding":0,"symbolType":"M-1,0.1H1V0.68H-1Z","symbolSize":2704,"symbolStrokeWidth":0,"labelFont":"Open Sans","labelFontSize":23,"labelColor":"#8C8279","labelLimit":800,"labelOffset":5,"labelBaseline":"top","labelExpr":"split(datum.label, '|')"}}
 }},
{"data":{"name":"px"},
 "mark":{"type":"line","strokeWidth":5,"strokeJoin":"round","strokeCap":"round"},
 "encoding":{
  "x":{"field":"d","type":"temporal"},
  "y":{"field":"p","type":"quantitative","scale":{"domain":[40,120],"nice":false,"zero":false},
   "axis":{"orient":"right","values":[40,50,60,70,80,90,100,110,120],"labelExpr":"replace(format(datum.value, '.1f'), '.', ',')","grid":false,"domain":true,"domainColor":"#BDB8B3","domainWidth":1.5,"ticks":true,"tickSize":8,"tickColor":"#BDB8B3","tickWidth":1.5,"labelPadding":24}},
  "stroke":{"datum":"Valor Cota Fechamento Ex (R$, eixo dir.)","scale":{"range":["#8B8079"]},
   "legend":{"title":null,"orient":"none","legendX":562,"legendY":-115,"padding":0,"symbolType":"stroke","symbolSize":2704,"symbolStrokeWidth":5,"labelFont":"Open Sans","labelFontSize":23,"labelColor":"#8C8279","labelLimit":800,"labelOffset":4}}
 }}
],
"resolve":{"scale":{"y":"independent","fill":"independent","stroke":"independent"}}
}
